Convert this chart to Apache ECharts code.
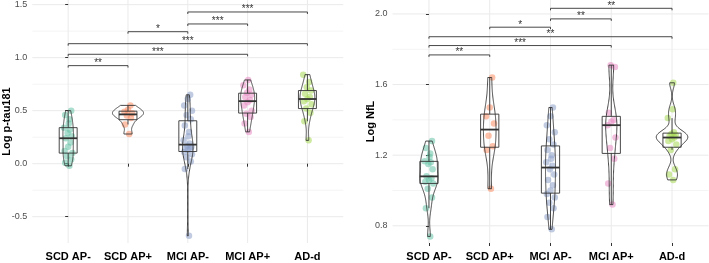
<!DOCTYPE html>
<html><head><meta charset="utf-8">
<script src="https://cdn.jsdelivr.net/npm/echarts@6/dist/echarts.min.js"></script>
<style>html,body{margin:0;padding:0;background:#fff}#c{width:709px;height:263px}</style>
</head><body><div id="c"></div>
<script>
const categories = ['SCD AP-', 'SCD AP+', 'MCI AP-', 'MCI AP+', 'AD-d'];
const groupColors = ['#66C2A5', '#FC8D62', '#8DA0CB', '#E78AC3', '#A6D854'];

// Log p-tau181 values per group
const ptauSCDneg = [-0.02, 0.01, 0.04, 0.07, 0.10, 0.12, 0.16, 0.20, 0.24, 0.26, 0.29, 0.32, 0.34, 0.38, 0.42, 0.46, 0.50];
const ptauSCDpos = [0.28, 0.37, 0.43, 0.455, 0.475, 0.49, 0.51, 0.55];
const ptauMCIneg = [-0.68, -0.05, 0.02, 0.06, 0.09, 0.11, 0.13, 0.14, 0.15, 0.16, 0.17, 0.19, 0.22, 0.26, 0.30, 0.36, 0.42, 0.46, 0.50, 0.55, 0.61, 0.65];
const ptauMCIpos = [0.30, 0.38, 0.44, 0.47, 0.50, 0.55, 0.58, 0.60, 0.63, 0.65, 0.67, 0.70, 0.74, 0.79];
const ptauADd = [0.22, 0.40, 0.48, 0.52, 0.56, 0.59, 0.61, 0.63, 0.66, 0.69, 0.72, 0.77, 0.84];

// Log NfL values per group
const nflSCDneg = [0.74, 0.90, 0.96, 1.01, 1.04, 1.05, 1.06, 1.07, 1.08, 1.12, 1.15, 1.16, 1.165, 1.19, 1.21, 1.24, 1.28];
const nflSCDpos = [1.01, 1.23, 1.25, 1.31, 1.38, 1.42, 1.47, 1.64];
const nflMCIneg = [0.78, 0.85, 0.90, 0.93, 0.96, 0.98, 1.00, 1.03, 1.06, 1.09, 1.12, 1.14, 1.16, 1.18, 1.20, 1.23, 1.26, 1.29, 1.33, 1.37, 1.42, 1.47];
const nflMCIpos = [0.92, 1.04, 1.18, 1.24, 1.30, 1.37, 1.39, 1.40, 1.44, 1.70, 1.71];
const nflADd = [1.06, 1.09, 1.12, 1.23, 1.26, 1.28, 1.29, 1.30, 1.31, 1.315, 1.32, 1.33, 1.41, 1.46, 1.61];

// tick labels
const ptauTicks = [-0.5, 0, 0.5, 1, 1.5];
const ptauMinor = [-0.25, 0.25, 0.75, 1.25];
const nflTicks = [0.8, 1.2, 1.6, 2.0];
const nflMinor = [1.0, 1.4, 1.8];

// significance brackets: [group A, group B, bracket value, label]
const ptauSig = [[2, 4, 1.431, '***'], [2, 3, 1.318, '***'], [1, 2, 1.245, '*'], [0, 4, 1.132, '***'], [0, 3, 1.032, '***'], [0, 1, 0.925, '**']];
const nflSig = [[2, 4, 2.032, '**'], [2, 3, 1.972, '**'], [1, 2, 1.925, '*'], [0, 4, 1.871, '**'], [0, 3, 1.821, '***'], [0, 1, 1.768, '**']];

const jitter = [0.02, -0.05, 0.05, -0.02, 0.07, -0.06, 0.0, 0.04, -0.04, 0.06, -0.01, 0.03, -0.07, 0.01];

function q7(s, p) { const h = (s.length - 1) * p; const lo = Math.floor(h); const hi = Math.min(lo + 1, s.length - 1); return s[lo] + (h - lo) * (s[hi] - s[lo]); }
function boxStats(vals) {
  const s = vals.slice().sort((a, b) => a - b);
  const q1 = q7(s, 0.25), med = q7(s, 0.5), q3 = q7(s, 0.75), iqr = q3 - q1;
  const lo = s.find(v => v >= q1 - 1.5 * iqr);
  const hi = s.slice().reverse().find(v => v <= q3 + 1.5 * iqr);
  return [q1, med, q3, lo, hi];
}
function kde(vals, n) {
  const s = vals.slice().sort((a, b) => a - b), N = s.length;
  const mean = s.reduce((a, b) => a + b, 0) / N;
  const sd = Math.sqrt(s.reduce((a, b) => a + (b - mean) * (b - mean), 0) / (N - 1));
  const iqr = q7(s, 0.75) - q7(s, 0.25);
  const bw = 0.9 * Math.min(sd, iqr / 1.34) * Math.pow(N, -0.2);
  const out = [];
  for (let k = 0; k <= n; k++) {
    const y = s[0] + (s[N - 1] - s[0]) * k / n;
    let d = 0;
    for (const x of s) { const z = (y - x) / bw; d += Math.exp(-0.5 * z * z); }
    out.push([y, d / (N * bw * Math.sqrt(2 * Math.PI))]);
  }
  return out;
}

const panels = [
  { groups: [ptauSCDneg, ptauSCDpos, ptauMCIneg, ptauMCIpos, ptauADd], sig: ptauSig, ticks: ptauTicks, minor: ptauMinor, min: -0.748, max: 1.544, name: 'Log p-tau181', nameGap: 20 },
  { groups: [nflSCDneg, nflSCDpos, nflMCIneg, nflMCIpos, nflADd], sig: nflSig, ticks: nflTicks, minor: nflMinor, min: 0.7026, max: 2.079, name: 'Log NfL', nameGap: 16 }
];

const LINE = '#333333';
const series = [];
panels.forEach((p, pi) => {
  // grid lines
  const gl = [];
  p.ticks.forEach(v => gl.push([0, v, 1]));
  p.minor.forEach(v => gl.push([0, v, 0]));
  categories.forEach((c, i) => gl.push([1, i, 1]));
  series.push({
    type: 'custom', xAxisIndex: pi, yAxisIndex: pi, silent: true, z: 0, data: gl,
    renderItem: (params, api) => {
      const kind = api.value(0), v = api.value(1), major = api.value(2);
      let a, b;
      if (kind === 0) { a = api.coord([-0.6, v]); b = api.coord([4.6, v]); }
      else { a = api.coord([v, p.min]); b = api.coord([v, p.max]); }
      return { type: 'line', shape: { x1: a[0], y1: a[1], x2: b[0], y2: b[1] }, style: { stroke: major ? '#EAEAEA' : '#F4F4F4', lineWidth: 1 } };
    }
  });
  // points
  p.groups.forEach((vals, g) => {
    series.push({
      type: 'scatter', xAxisIndex: pi, yAxisIndex: pi, z: 2, silent: true, symbolSize: 6.5,
      itemStyle: { color: groupColors[g], opacity: 0.55 },
      data: vals.map((v, i) => [g + jitter[i % jitter.length], v])
    });
  });
  // violins
  const profiles = p.groups.map(vals => kde(vals, 120));
  const maxD = Math.max(...profiles.map(pr => Math.max(...pr.map(d => d[1]))));
  series.push({
    type: 'custom', xAxisIndex: pi, yAxisIndex: pi, silent: true, z: 3,
    data: p.groups.map((vals, g) => [g, q7(vals.slice().sort((a, b) => a - b), 0.5)]),
    renderItem: (params, api) => {
      const g = api.value(0), prof = profiles[g];
      const right = prof.map(([y, d]) => api.coord([g + d / maxD * 0.26, y]));
      const left = prof.slice().reverse().map(([y, d]) => api.coord([g - d / maxD * 0.26, y]));
      return { type: 'polygon', shape: { points: right.concat(left) }, style: { fill: 'none', stroke: LINE, lineWidth: 0.9 } };
    }
  });
  // boxplots
  series.push({
    type: 'custom', xAxisIndex: pi, yAxisIndex: pi, silent: true, z: 4,
    data: p.groups.map((vals, g) => [g].concat(boxStats(vals))),
    renderItem: (params, api) => {
      const g = api.value(0), q1 = api.value(1), med = api.value(2), q3 = api.value(3), lo = api.value(4), hi = api.value(5);
      const tl = api.coord([g - 0.15, q3]), br = api.coord([g + 0.15, q1]);
      const m1 = api.coord([g - 0.15, med]), m2 = api.coord([g + 0.15, med]);
      const wt = api.coord([g, hi]), wb = api.coord([g, lo]), ct = api.coord([g, q3]), cb = api.coord([g, q1]);
      return { type: 'group', children: [
        { type: 'line', shape: { x1: ct[0], y1: ct[1], x2: wt[0], y2: wt[1] }, style: { stroke: LINE, lineWidth: 0.9 } },
        { type: 'line', shape: { x1: cb[0], y1: cb[1], x2: wb[0], y2: wb[1] }, style: { stroke: LINE, lineWidth: 0.9 } },
        { type: 'rect', shape: { x: tl[0], y: tl[1], width: br[0] - tl[0], height: br[1] - tl[1] }, style: { fill: 'none', stroke: LINE, lineWidth: 0.9 } },
        { type: 'line', shape: { x1: m1[0], y1: m1[1], x2: m2[0], y2: m2[1] }, style: { stroke: LINE, lineWidth: 1.8 } }
      ] };
    }
  });
  // significance brackets
  series.push({
    type: 'custom', xAxisIndex: pi, yAxisIndex: pi, silent: true, z: 5,
    data: p.sig.map(s => [s[0], s[1], s[2]]),
    renderItem: (params, api) => {
      const a = api.coord([api.value(0), api.value(2)]), b = api.coord([api.value(1), api.value(2)]);
      const label = p.sig[params.dataIndex][3];
      return { type: 'group', children: [
        { type: 'polyline', shape: { points: [[a[0], a[1] + 2], [a[0], a[1]], [b[0], b[1]], [b[0], b[1] + 2]] }, style: { fill: 'none', stroke: LINE, lineWidth: 0.9 } },
        { type: 'text', x: (a[0] + b[0]) / 2, y: a[1] - 2.3, style: { text: label, fill: '#333', fontSize: 10, fontFamily: 'Liberation Sans', align: 'center', verticalAlign: 'middle', textAlign: 'center', textVerticalAlign: 'middle' } }
      ] };
    }
  });
});

const chart = echarts.init(document.getElementById('c'), null, { renderer: 'canvas' });
chart.setOption({
  animation: false,
  backgroundColor: '#fff',
  textStyle: { fontFamily: 'Liberation Sans' },
  grid: [
    { left: 32.3, top: 0, width: 311, height: 243, outerBoundsMode: 'none', containLabel: false },
    { left: 392.5, top: 0, width: 316, height: 243, outerBoundsMode: 'none', containLabel: false }
  ],
  xAxis: panels.map((p, pi) => ({
    gridIndex: pi, type: 'value', min: -0.6, max: 4.6,
    axisLine: { show: false }, splitLine: { show: false },
    axisTick: { show: true, customValues: [0, 1, 2, 3, 4], length: 3, lineStyle: { color: LINE } },
    axisLabel: { customValues: [0, 1, 2, 3, 4], formatter: v => categories[Math.round(v)], color: '#000', fontWeight: 'bold', fontSize: 11, fontFamily: 'Liberation Sans', margin: 8 }
  })),
  yAxis: panels.map((p, pi) => ({
    gridIndex: pi, type: 'value', min: p.min, max: p.max,
    axisLine: { show: false }, splitLine: { show: false },
    axisTick: { show: true, customValues: p.ticks, length: 3, lineStyle: { color: LINE } },
    axisLabel: { customValues: p.ticks, formatter: v => Number(v).toFixed(1), color: '#4D4D4D', fontSize: 9, fontFamily: 'Liberation Sans', margin: 5 },
    name: p.name, nameLocation: 'middle', nameGap: p.nameGap, nameMoveOverlap: false,
    nameTextStyle: { fontWeight: 'bold', fontSize: 11, color: '#000', fontFamily: 'Liberation Sans' }
  })),
  series: series
});
</script></body></html>
